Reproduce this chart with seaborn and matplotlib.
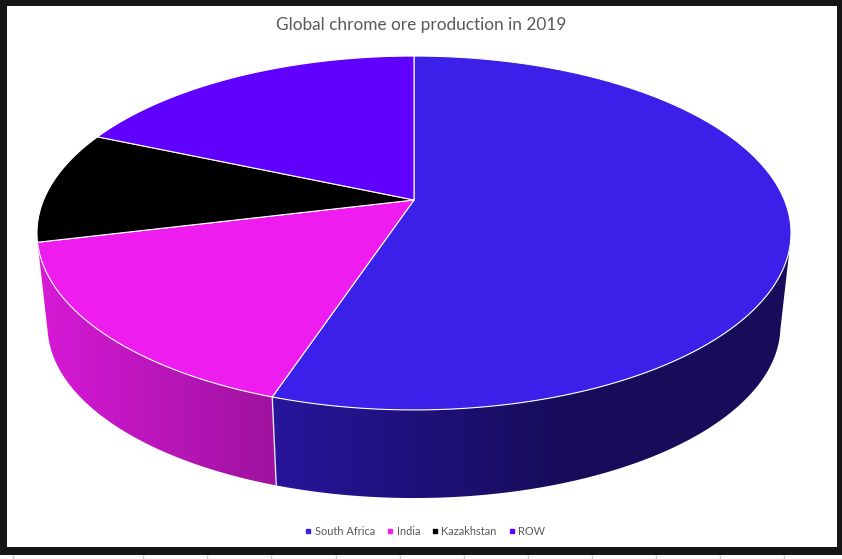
import numpy as np
import matplotlib
matplotlib.use('Agg')
import matplotlib.pyplot as plt
from matplotlib.lines import Line2D
from matplotlib.patches import Polygon, Rectangle
import seaborn as sns

title = 'Global chrome ore production in 2019'
countries = ['South Africa', 'India', 'Kazakhstan', 'ROW']
share = [55.1, 16.1, 10.3, 18.5]
colors = ['#3a20e8', '#ee1cee', '#000000', '#6000ff']

# pie geometry in screen pixels, the pie is a circle seen in perspective
cx = 414
top_y, top_a, top_b = 200, 170.8, 370.4
bot_y, bot_a, bot_b = 294, 166.0, 360.0
persp = 0.1864
# right end of the visible wall, where it leaves the top face
wall_start = np.radians(102)


def project(theta, y0, a, b):
    u, v = np.sin(theta), np.cos(theta)
    d = 1 + persp * v
    return cx + b * u / d, y0 - a * v / d


sns.set_theme(style='white')
plt.rcParams['font.family'] = ['Lato', 'DejaVu Sans']

fig = plt.figure(figsize=(8.42, 5.59), dpi=100, facecolor='#161616')
ax = fig.add_axes([0, 0, 1, 1])

# screenshot frame and the sheet grid under it
ax.add_patch(Rectangle((7, 6), 830, 541, fc='white', ec='none', zorder=0))
ax.add_patch(Rectangle((0, 555), 842, 4, fc='#fbfbfb', ec='none', zorder=0))
ax.vlines([13, 143, 207, 271, 336, 400, 464, 528, 592, 656, 720, 784], 555, 559,
          color='#c8c8c8', lw=1, zorder=1)

edges = 2 * np.pi * np.cumsum([0] + share) / sum(share)

# wall gets darker from left to right, only the first two walls can be seen
xs = np.arange(0, 843)
factor = np.interp(xs, [40, 272, 560, 842], [0.9, 0.67, 0.39, 0.39])
for i, col in enumerate(colors[:2]):
    steps = np.linspace(max(edges[i], wall_start), edges[i + 1], 300)
    xt, yt = project(steps, top_y, top_a, top_b)
    xb, yb = project(steps[::-1], bot_y, bot_a, bot_b)
    rgb = np.array(matplotlib.colors.to_rgb(col))
    grad = (factor[:, None] * rgb)[None, :, :]
    wall = Polygon(np.c_[np.r_[xt, xb], np.r_[yt, yb]], closed=True, transform=ax.transData,
                   fc='none', ec='none')
    ax.add_patch(wall)
    im = ax.imshow(grad, extent=(0, 842, 559, 0), aspect='auto', interpolation='bilinear', zorder=2)
    im.set_clip_path(wall)

ax.set_xlim(0, 842)
ax.set_ylim(559, 0)
ax.axis('off')

# seam between the two visible walls
xt, yt = project(edges[1], top_y, top_a, top_b)
xb, yb = project(edges[1], bot_y, bot_a, bot_b)
ax.plot([xt, xb], [yt, yb], color='#e4e0f0', lw=1.0, zorder=3)

for i, col in enumerate(colors):
    steps = np.linspace(edges[i], edges[i + 1], 200)
    x, y = project(steps, top_y, top_a, top_b)
    ax.fill(np.r_[cx, x], np.r_[top_y, y], fc=col, ec='white', lw=0.8, zorder=4,
            joinstyle='round')

ax.text(421.5, 25, title, ha='center', va='center', fontsize=12.4, color='#595959', zorder=5)

handles = [Line2D([], [], ls='none', marker='s', ms=2.6, color=c) for c in colors]
ax.legend(handles, countries, loc='center', bbox_to_anchor=(424, 531.5),
          bbox_transform=ax.transData, ncol=4, frameon=False, fontsize=7.9,
          labelcolor='#595959', handletextpad=0.1, columnspacing=0.85, handlelength=1.0)

plt.savefig('out.png', dpi=100, facecolor=fig.get_facecolor())
